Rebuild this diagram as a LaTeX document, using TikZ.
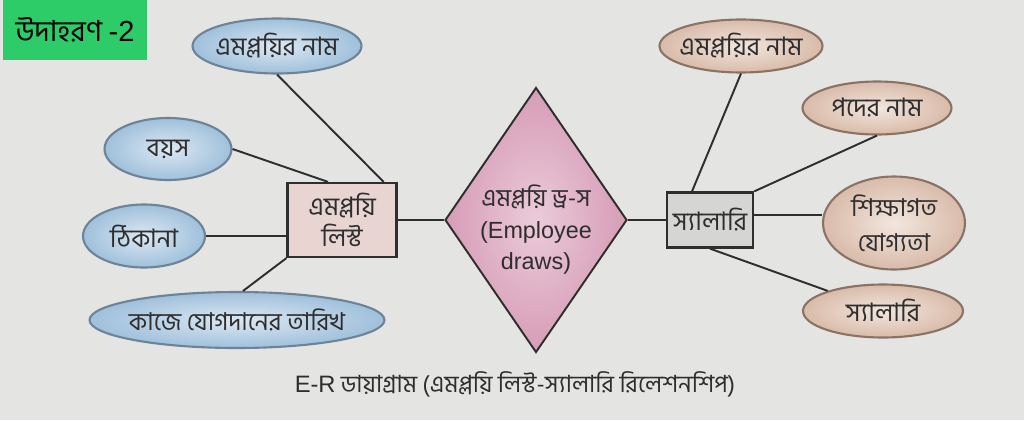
\documentclass[tikz,border=0pt]{standalone}
\usepackage{fontspec}
\setmainfont[Script=Bengali]{Hind Siliguri}
\newfontfamily\latin{Liberation Sans}
\usepackage{tikz}
\usetikzlibrary{shapes.geometric,positioning,calc}

\definecolor{paper}{HTML}{E4E4E2}
\definecolor{titlegreen}{HTML}{2DCC68}
\definecolor{bluefill}{HTML}{9FC0DB}
\definecolor{bluelite}{HTML}{DCE8F2}
\definecolor{blueedge}{HTML}{6E8398}
\definecolor{tanfill}{HTML}{D9BBA9}
\definecolor{tanlite}{HTML}{F1E6DE}
\definecolor{tanedge}{HTML}{8A7365}
\definecolor{listfill}{HTML}{E8D5D1}
\definecolor{salfill}{HTML}{D5D5D3}
\definecolor{rosefill}{HTML}{D69CB6}
\definecolor{roselite}{HTML}{EBCBD9}
\definecolor{ink}{HTML}{2E2E2E}

\begin{document}
\begin{tikzpicture}[x=0.02cm, y=-0.02cm,
    battr/.style={ellipse, draw=blueedge, line width=1.2pt, inner ysep=0pt, inner xsep=-3pt,
        inner color=bluelite, outer color=bluefill, text=ink, font=\fontsize{14.5}{16}\selectfont},
    tattr/.style={ellipse, draw=tanedge, line width=1.2pt, inner ysep=0pt, inner xsep=-3pt,
        inner color=tanlite, outer color=tanfill, text=ink, font=\fontsize{14.5}{16}\selectfont},
    entity/.style={rectangle, draw=ink, line width=1.3pt, align=center, text=ink,
        font=\fontsize{14.5}{18}\selectfont},
    relation/.style={diamond, draw=ink, line width=1.1pt, inner sep=0pt,
        inner color=roselite, outer color=rosefill, text=ink, font=\fontsize{14}{18}\selectfont},
    link/.style={draw=ink, line width=1.1pt}]
    \useasboundingbox (0,0) rectangle (1024,420);
    \fill[paper] (0,0) rectangle (1024,420);

    % Title tag
    \node[fill=titlegreen, minimum width=2.88cm, minimum height=1.2cm,
        font=\fontsize{16.5}{18}\selectfont] (example) at (75,30) {উদাহরণ {\latin -2}};

    % Entities and relationship
    \node[entity, fill=listfill, minimum width=2.18cm, minimum height=1.48cm] (emplist) at (342,220) {এমপ্লয়ি\\লিস্ট};
    \node[relation, minimum width=3.64cm, minimum height=5.3cm] (draws) at (536,220)
        {\raisebox{-0.36cm}[0pt][0pt]{\begin{tabular}{@{}c@{}}
            এমপ্লয়ি ড্র-স\\
            {\latin\fontsize{13.3}{18}\selectfont (Employee}\\
            {\latin\fontsize{13.3}{18}\selectfont draws)}
        \end{tabular}}};
    \node[entity, fill=salfill, minimum width=1.66cm, minimum height=1.1cm] (salary) at (710,220) {স্যালারি};

    % Attributes of the employee list
    \node[battr, minimum width=3.38cm, minimum height=1.1cm] (lname) at (277,46) {এমপ্লয়ির নাম};
    \node[battr, minimum width=2.54cm, minimum height=1.24cm] (age) at (168,149) {বয়স};
    \node[battr, minimum width=2.44cm, minimum height=1.26cm] (addr) at (144,236) {ঠিকানা};
    \node[battr, minimum width=5.9cm, minimum height=1.12cm, font=\fontsize{14}{16}\selectfont] (joindate) at (237,320) {কাজে যোগদানের তারিখ};

    % Attributes of the salary
    \node[tattr, minimum width=3.26cm, minimum height=1.06cm] (rname) at (741,46) {এমপ্লয়ির নাম};
    \node[tattr, minimum width=2.98cm, minimum height=1.06cm] (post) at (877,108) {পদের নাম};
    \node[tattr, minimum width=2.84cm, minimum height=1.86cm, align=center,
        font=\fontsize{14}{20}\selectfont] (edu) at (894,223) {শিক্ষাগত\\যোগ্যতা};
    \node[tattr, minimum width=3.2cm, minimum height=1.06cm] (rsal) at (883,311) {স্যালারি};

    % Caption
    \node[text=ink, font=\fontsize{13.5}{15}\selectfont] (caption) at (515,384)
        {{\latin E-R} ডায়াগ্রাম (এমপ্লয়ি লিস্ট-স্যালারি রিলেশনশিপ)};

    % Links
    \draw[link] (lname.south) -- ([xshift=-0.28cm]emplist.north east);
    \draw[link] (age.east) -- ([xshift=-0.28cm]emplist.north);
    \draw[link] (addr.east) -- (emplist.west |- addr.east);
    \draw[link] ([xshift=0.12cm]joindate.north) -- (emplist.south west);
    \draw[link] (emplist.east) -- (draws.west);
    \draw[link] (draws.east) -- (salary.west);
    \draw[link] ([xshift=-0.36cm]salary.north) -- (rname.south);
    \draw[link] (salary.north east) -- (post.south);
    \draw[link] (salary.6) -- (edu.west |- salary.6);
    \draw[link] (salary.south) -- (rsal.160);
\end{tikzpicture}
\end{document}
